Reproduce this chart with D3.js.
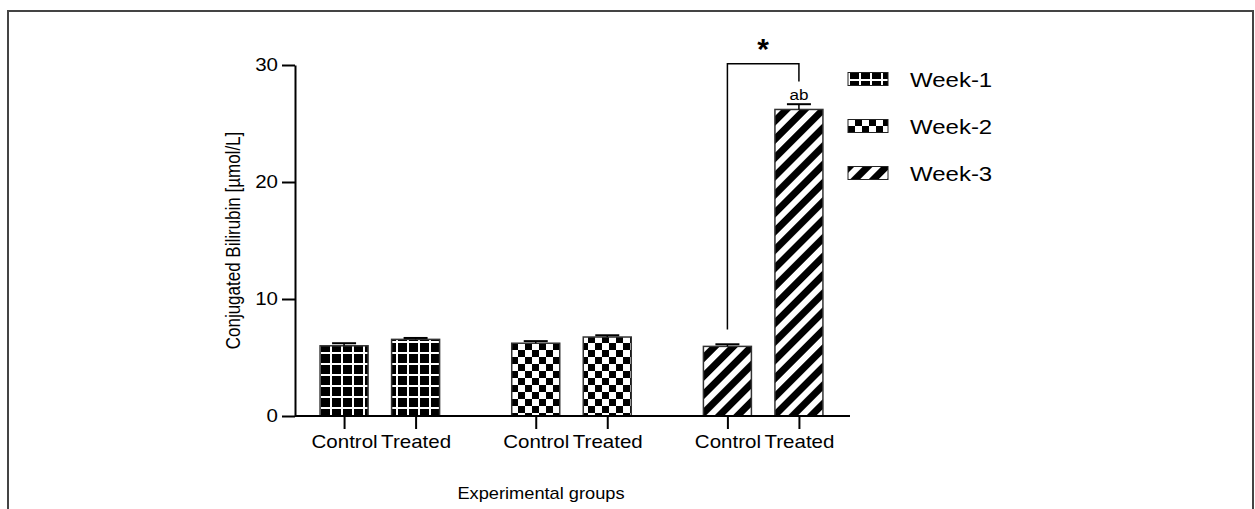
<!DOCTYPE html>
<html>
<head>
<meta charset="utf-8">
<script src="https://cdn.jsdelivr.net/npm/d3@7"></script>
<style>
  body { margin: 0; background: #fff; }
  svg { display: block; font-family: "Liberation Sans", Arial, sans-serif; }
</style>
</head>
<body>
<div id="chart"></div>
<script>
"use strict";

// data
var weeks = ["Week-1", "Week-2", "Week-3"];
var groups = ["Control", "Treated"];
var means = {
  "Week-1": [6.0, 6.55],
  "Week-2": [6.22, 6.75],
  "Week-3": [5.95, 26.2]
};
var errors = {
  "Week-1": [0.22, 0.12],
  "Week-2": [0.18, 0.15],
  "Week-3": [0.18, 0.45]
};
var yTicks = [0, 10, 20, 30];

var width = 1255;
var height = 509;
var sx = 1.14; // the reference text is a bit wide

var svg = d3.select("#chart").append("svg")
  .attr("width", width)
  .attr("height", height);

// outer frame
svg.append("rect")
  .attr("x", 8).attr("y", 11)
  .attr("width", 1245).attr("height", 520)
  .attr("fill", "none")
  .attr("stroke", "#444")
  .attr("stroke-width", 2);

var defs = svg.append("defs");

// week 1 : grid
var p1 = defs.append("pattern")
  .attr("id", "pat1").attr("patternUnits", "userSpaceOnUse")
  .attr("width", 11).attr("height", 11);
p1.append("rect").attr("width", 11).attr("height", 11).attr("fill", "#000");
p1.append("rect").attr("x", 0).attr("y", 0).attr("width", 2).attr("height", 11).attr("fill", "#fff");
p1.append("rect").attr("x", 0).attr("y", 0).attr("width", 11).attr("height", 2).attr("fill", "#fff");

// week 2 : checkerboard
var p2 = defs.append("pattern")
  .attr("id", "pat2").attr("patternUnits", "userSpaceOnUse")
  .attr("width", 14).attr("height", 14);
p2.append("rect").attr("width", 14).attr("height", 14).attr("fill", "#fff");
p2.append("rect").attr("x", 0).attr("y", 0).attr("width", 7).attr("height", 7).attr("fill", "#000");
p2.append("rect").attr("x", 7).attr("y", 7).attr("width", 7).attr("height", 7).attr("fill", "#000");

// week 3 : diagonal stripes
var p3 = defs.append("pattern")
  .attr("id", "pat3").attr("patternUnits", "userSpaceOnUse")
  .attr("width", 13).attr("height", 13)
  .attr("patternTransform", "rotate(45)");
p3.append("rect").attr("width", 13).attr("height", 13).attr("fill", "#000");
p3.append("rect").attr("x", 0).attr("width", 6).attr("height", 13).attr("fill", "#fff");

var fills = { "Week-1": "url(#pat1)", "Week-2": "url(#pat2)", "Week-3": "url(#pat3)" };

var y = d3.scaleLinear().domain([0, 30]).range([416, 65]);

var x0 = d3.scaleBand().domain(weeks).range([284, 859]).paddingInner(0);
var x1 = d3.scalePoint().domain(groups).range([0, x0.bandwidth()]).padding(0.84);
var barW = 48;

// flat list of bars
var bars = [];
weeks.forEach(function(w) {
  groups.forEach(function(g, i) {
    bars.push({ week: w, group: g, key: w + "|" + g, value: means[w][i], err: errors[w][i] });
  });
});

var xPos = d3.scaleOrdinal()
  .domain(bars.map(function(d) { return d.key; }))
  .range(bars.map(function(d) { return x0(d.week) + x1(d.group); }));

// bars
svg.selectAll("rect.bar")
  .data(bars)
  .enter()
  .append("rect")
  .attr("class", "bar")
  .attr("x", function(d) { return xPos(d.key) - barW / 2; })
  .attr("y", function(d) { return y(d.value); })
  .attr("width", barW)
  .attr("height", function(d) { return y(0) - y(d.value); })
  .attr("fill", function(d) { return fills[d.week]; })
  .attr("stroke", "#333")
  .attr("stroke-width", 1.5);

// error bars (upper half only)
var eb = svg.selectAll("g.err")
  .data(bars)
  .enter()
  .append("g")
  .attr("class", "err");
eb.append("line")
  .attr("x1", function(d) { return xPos(d.key); })
  .attr("x2", function(d) { return xPos(d.key); })
  .attr("y1", function(d) { return y(d.value); })
  .attr("y2", function(d) { return y(d.value + d.err); })
  .attr("stroke", "#000").attr("stroke-width", 1.5);
eb.append("line")
  .attr("x1", function(d) { return xPos(d.key) - 12; })
  .attr("x2", function(d) { return xPos(d.key) + 12; })
  .attr("y1", function(d) { return y(d.value + d.err); })
  .attr("y2", function(d) { return y(d.value + d.err); })
  .attr("stroke", "#000").attr("stroke-width", 2);

// y axis
var yAxis = svg.append("g")
  .attr("transform", "translate(295,0)")
  .call(d3.axisLeft(y).tickValues(yTicks).tickSize(13).tickSizeOuter(0).tickPadding(4));
yAxis.select(".domain").attr("stroke-width", 2);
yAxis.selectAll(".tick line").attr("stroke-width", 2);
yAxis.selectAll(".tick text")
  .attr("font-size", 18)
  .attr("fill", "#000")
  .attr("text-anchor", "end")
  .attr("transform", function() { return "translate(" + (-17) + ",0) scale(" + sx + ",1) translate(17,0)"; });

// x axis
svg.append("line")
  .attr("x1", 295).attr("x2", 850)
  .attr("y1", y(0)).attr("y2", y(0))
  .attr("stroke", "#000").attr("stroke-width", 2);
var xAxis = svg.append("g")
  .attr("transform", "translate(0," + y(0) + ")")
  .call(d3.axisBottom(xPos).tickSize(13).tickPadding(6)
    .tickFormat(function(k) { return k.split("|")[1]; }));
xAxis.select(".domain").remove();
xAxis.selectAll(".tick line").attr("stroke-width", 2);
xAxis.selectAll(".tick text")
  .attr("font-size", 18)
  .attr("fill", "#000")
  .attr("transform", "scale(" + sx + ",1)")
  .attr("x", function() { return 0; });
// keep the stretched labels centred on their ticks
xAxis.selectAll(".tick").each(function() {
  d3.select(this).select("text").attr("transform", "scale(" + sx + ",1)");
});

// axis titles
svg.append("text")
  .attr("transform", "translate(240," + ((y(0) + y(30)) / 2) + ") scale(" + sx + ",1) rotate(-90)")
  .attr("text-anchor", "middle")
  .attr("font-size", 17)
  .attr("fill", "#000")
  .text("Conjugated Bilirubin [µmol/L]");

svg.append("text")
  .attr("transform", "translate(541,499) scale(" + sx + ",1)")
  .attr("text-anchor", "middle")
  .attr("font-size", 16)
  .attr("fill", "#000")
  .text("Experimental groups");

// significance bracket between week-3 control and treated
var cKey = "Week-3|Control", tKey = "Week-3|Treated";
var bracket = [
  [xPos(cKey), y(7.4)],
  [xPos(cKey), y(30.1)],
  [xPos(tKey), y(30.1)],
  [xPos(tKey), y(28.6)]
];
svg.append("path")
  .attr("d", d3.line()(bracket))
  .attr("fill", "none")
  .attr("stroke", "#000")
  .attr("stroke-width", 1.5);

svg.append("text")
  .attr("x", (xPos(cKey) + xPos(tKey)) / 2)
  .attr("y", y(30.1) - 5)
  .attr("text-anchor", "middle")
  .attr("font-size", 30)
  .attr("font-weight", "bold")
  .attr("fill", "#000")
  .text("*");

svg.append("text")
  .attr("transform", "translate(" + xPos(tKey) + "," + (y(26.2 + 0.45) - 4) + ") scale(" + sx + ",1)")
  .attr("text-anchor", "middle")
  .attr("font-size", 15)
  .attr("fill", "#000")
  .text("ab");

// legend
var legend = svg.selectAll("g.legend")
  .data(weeks)
  .enter()
  .append("g")
  .attr("class", "legend")
  .attr("transform", function(d, i) { return "translate(848," + (79 + i * 47) + ")"; });
legend.append("rect")
  .attr("x", 0).attr("y", -6.5)
  .attr("width", 40).attr("height", 13)
  .attr("fill", function(d) { return fills[d]; })
  .attr("stroke", "#222").attr("stroke-width", 1);
legend.append("text")
  .attr("transform", "translate(62,7.5) scale(1.2,1)")
  .attr("font-size", 20)
  .attr("fill", "#000")
  .text(function(d) { return d; });
</script>
</body>
</html>
